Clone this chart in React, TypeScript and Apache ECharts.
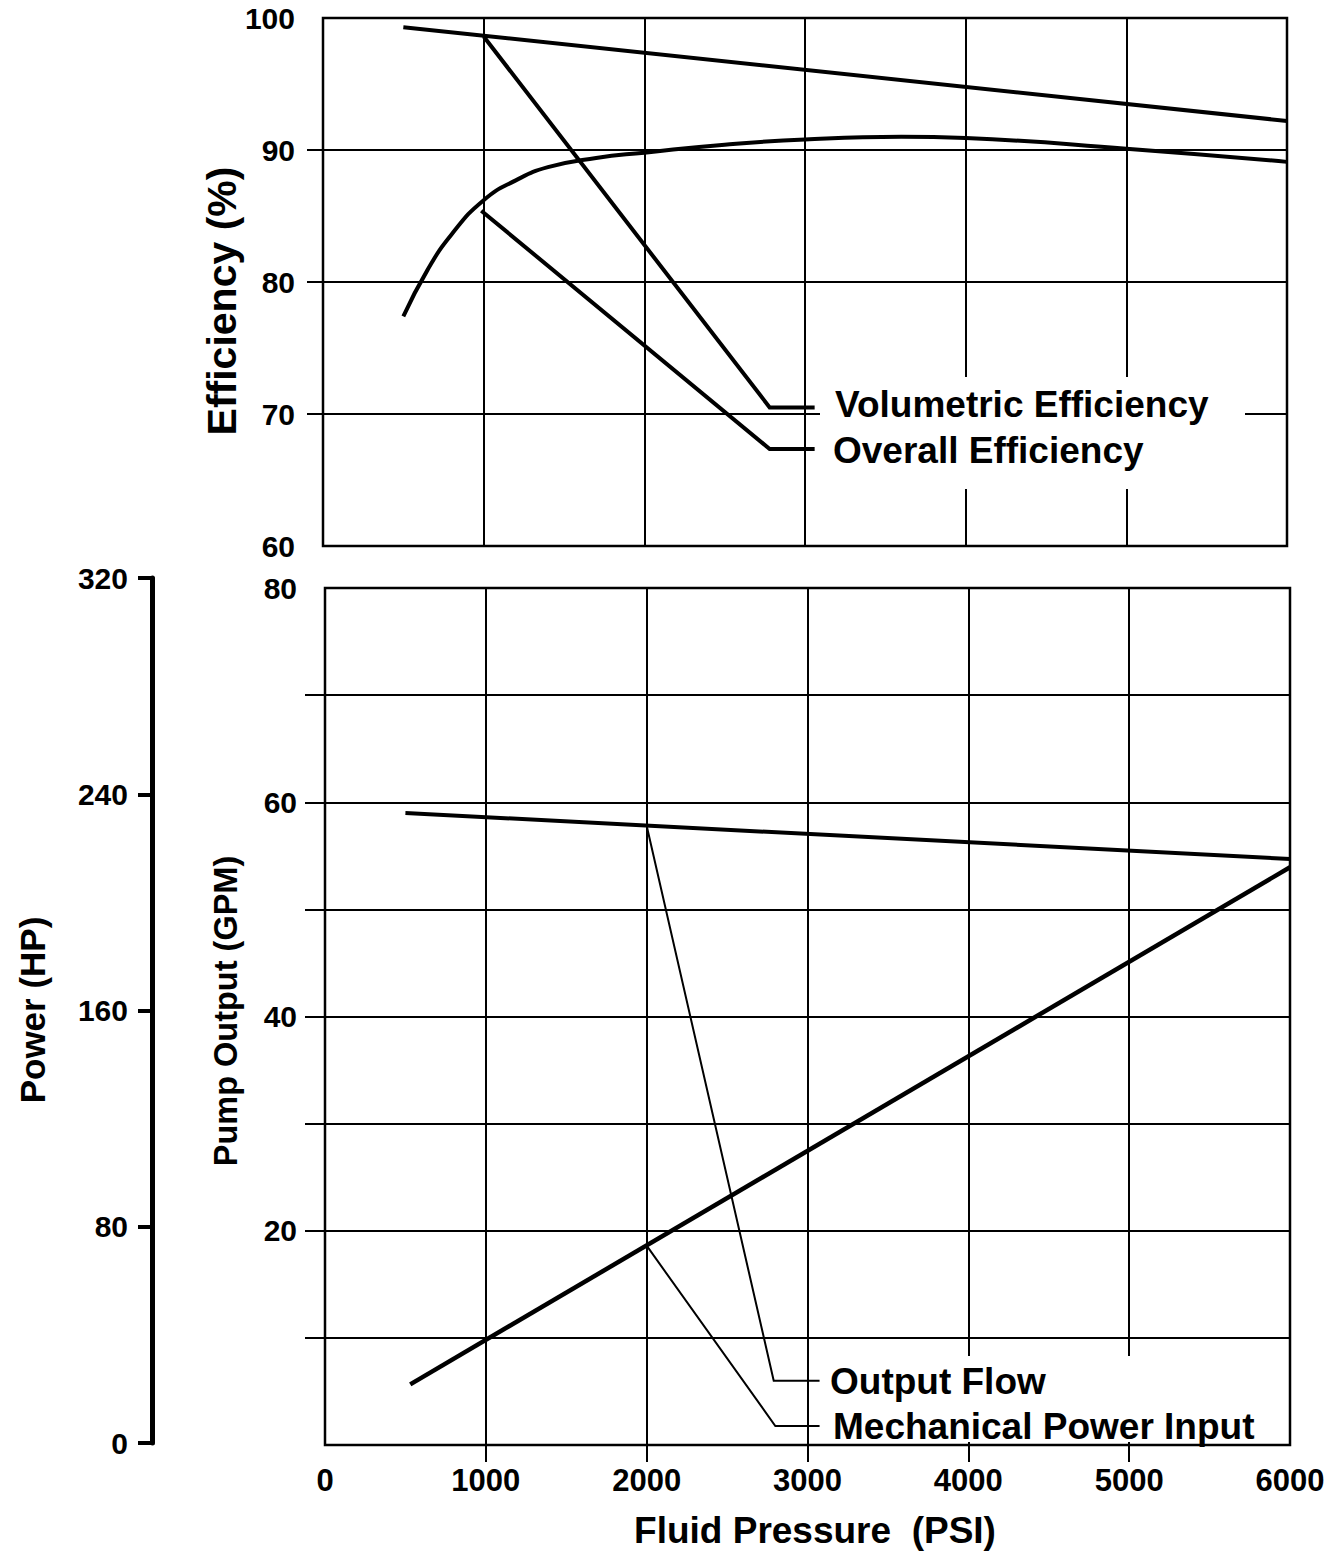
import React, { useEffect, useRef } from "react";
import * as echarts from "echarts";

// ---- data ----
const pressureLabels = [0, 1000, 2000, 3000, 4000, 5000, 6000];
const efficiencyTicks = [60, 70, 80, 90, 100];
const gpmTicks = [0, 20, 40, 60, 80];
const powerTicks = [0, 80, 160, 240, 320];

// Top panel: efficiency (%) vs pressure (PSI)
const volumetricEfficiency: [number, number][] = [
  [500, 99.3],
  [6000, 92.2],
];
const overallEfficiency: [number, number][] = [
  [500, 77.4],
  [650, 80.9],
  [800, 83.6],
  [1000, 86.2],
  [1200, 87.7],
  [1400, 88.7],
  [1700, 89.4],
  [2000, 89.8],
  [2500, 90.4],
  [3000, 90.8],
  [3600, 91.0],
  [4000, 90.9],
  [5000, 90.1],
  [6000, 89.1],
];
const volumetricLeader: [number, number][] = [
  [1000, 98.6],
  [2780, 70.5],
  [3060, 70.5],
];
const overallLeader: [number, number][] = [
  [985, 85.4],
  [2780, 67.35],
  [3060, 67.35],
];

// Bottom panel: pump output (GPM) and power (HP) vs pressure
const outputFlow: [number, number][] = [
  [500, 59.0],
  [6000, 54.7],
];
const outputFlowLeader: [number, number][] = [
  [2000, 57.8],
  [2790, 6.0],
  [3075, 6.0],
];
const powerInput: [number, number][] = [
  [530, 21.7],
  [6000, 213],
];
const powerLeader: [number, number][] = [
  [2000, 73],
  [2800, 6.3],
  [3075, 6.3],
];

const labelTexts = {
  volumetric: "Volumetric Efficiency",
  overall: "Overall Efficiency",
  flow: "Output Flow",
  power: "Mechanical Power Input",
  xTitle: "Fluid Pressure  (PSI)",
  effTitle: "Efficiency (%)",
  gpmTitle: "Pump Output (GPM)",
  hpTitle: "Power (HP)",
};

const FONT = "'Liberation Sans', Arial, Helvetica, sans-serif";

export default function App() {
  const ref = useRef<HTMLDivElement>(null);

  useEffect(() => {
    if (!ref.current) return;
    const chart = echarts.init(ref.current, null, { renderer: "svg" });

    const tickLabel = {
      color: "#000",
      fontSize: 30,
      fontWeight: "bold" as const,
      fontFamily: FONT,
      formatter: (v: number) => String(v),
    };
    const gridLine = { show: true, lineStyle: { color: "#000", width: 2 } };
    const lineSeries = (
      data: [number, number][],
      xi: number,
      yi: number,
      width: number
    ) => ({
      type: "line",
      xAxisIndex: xi,
      yAxisIndex: yi,
      data,
      symbol: "none",
      silent: true,
      lineStyle: { color: "#000", width, cap: "butt", join: "miter" },
      z: 5,
    });

    const text = (
      t: string,
      x: number,
      y: number,
      size: number,
      align: "left" | "center",
      rotation = 0
    ) => ({
      type: "text",
      x,
      y,
      rotation,
      z: 20,
      style: {
        text: t,
        fill: "#000",
        fontSize: size,
        fontWeight: "bold",
        fontFamily: FONT,
        textAlign: align,
        textVerticalAlign: "middle",
      },
    });

    const option = {
      animation: false,
      backgroundColor: "#fff",
      grid: [
        {
          left: 323,
          top: 18,
          width: 964,
          height: 528,
          show: true,
          borderColor: "#000",
          borderWidth: 2.5,
          containLabel: false,
          outerBoundsMode: "none",
        },
        {
          left: 325,
          top: 588,
          width: 965,
          height: 857,
          show: true,
          borderColor: "#000",
          borderWidth: 2.5,
          containLabel: false,
          outerBoundsMode: "none",
        },
        {
          left: 325,
          top: 578,
          width: 965,
          height: 865,
          show: false,
          containLabel: false,
          outerBoundsMode: "none",
        },
      ],
      xAxis: [
        {
          gridIndex: 0,
          type: "value",
          min: pressureLabels[0],
          max: pressureLabels[pressureLabels.length - 1],
          interval: 1000,
          axisLine: { show: false },
          axisTick: { show: false },
          axisLabel: { show: false },
          splitLine: gridLine,
        },
        {
          gridIndex: 1,
          type: "value",
          min: pressureLabels[0],
          max: pressureLabels[pressureLabels.length - 1],
          interval: 1000,
          axisLine: { show: false },
          axisTick: {
            show: true,
            inside: false,
            length: 17,
            customValues: pressureLabels.slice(1, -1),
            lineStyle: { color: "#000", width: 2 },
          },
          axisLabel: { ...tickLabel, fontSize: 31, margin: 20 },
          splitLine: gridLine,
        },
        {
          gridIndex: 2,
          type: "value",
          min: 0,
          max: 6000,
          show: false,
        },
      ],
      yAxis: [
        {
          gridIndex: 0,
          type: "value",
          min: efficiencyTicks[0],
          max: efficiencyTicks[efficiencyTicks.length - 1],
          interval: 10,
          axisLine: { show: false },
          axisTick: {
            show: true,
            length: 16,
            customValues: efficiencyTicks.slice(1, -1),
            lineStyle: { color: "#000", width: 2 },
          },
          axisLabel: { ...tickLabel, margin: 28 },
          splitLine: gridLine,
        },
        {
          gridIndex: 1,
          type: "value",
          min: gpmTicks[0],
          max: gpmTicks[gpmTicks.length - 1],
          interval: 10,
          axisLine: { show: false },
          axisTick: {
            show: true,
            length: 20,
            customValues: [10, 20, 30, 40, 50, 60, 70],
            lineStyle: { color: "#000", width: 2 },
          },
          axisLabel: {
            ...tickLabel,
            margin: 28,
            formatter: (v: number) =>
              gpmTicks.indexOf(v) > 0 ? String(v) : "",
          },
          splitLine: gridLine,
        },
        {
          gridIndex: 2,
          type: "value",
          min: powerTicks[0],
          max: powerTicks[powerTicks.length - 1],
          interval: 80,
          position: "left",
          offset: 173,
          axisLine: {
            show: true,
            onZero: false,
            lineStyle: { color: "#000", width: 5 },
          },
          axisTick: {
            show: true,
            length: 14,
            lineStyle: { color: "#000", width: 4 },
          },
          axisLabel: { ...tickLabel, margin: 24 },
          splitLine: { show: false },
        },
      ],
      series: [
        lineSeries(volumetricEfficiency, 0, 0, 4),
        {
          ...lineSeries(overallEfficiency, 0, 0, 4),
          smooth: 0.5,
        },
        lineSeries(volumetricLeader, 0, 0, 4),
        lineSeries(overallLeader, 0, 0, 4),
        lineSeries(outputFlow, 1, 1, 4),
        lineSeries(outputFlowLeader, 1, 1, 2),
        lineSeries(powerInput, 2, 2, 4.5),
        lineSeries(powerLeader, 2, 2, 2),
      ],
      graphic: [
        {
          type: "rect",
          z: 10,
          shape: { x: 820, y: 377, width: 425, height: 112 },
          style: { fill: "#fff" },
        },
        {
          type: "rect",
          z: 10,
          shape: { x: 822, y: 1356, width: 450, height: 86 },
          style: { fill: "#fff" },
        },
        text(labelTexts.volumetric, 835, 404, 37, "left"),
        text(labelTexts.overall, 833, 450, 37, "left"),
        text(labelTexts.flow, 830, 1381, 37, "left"),
        text(labelTexts.power, 833, 1426, 37, "left"),
        text(labelTexts.xTitle, 815, 1530, 37, "center"),
        text(labelTexts.effTitle, 222, 301, 41, "center", Math.PI / 2),
        text(labelTexts.gpmTitle, 226, 1011, 32.5, "center", Math.PI / 2),
        text(labelTexts.hpTitle, 32, 1010, 35, "center", Math.PI / 2),
      ],
    };

    chart.setOption(option as any);
    return () => chart.dispose();
  }, []);

  return (
    <div
      ref={ref}
      style={{
        position: "absolute",
        left: 0,
        top: 0,
        width: 1324,
        height: 1565,
        background: "#fff",
      }}
    />
  );
}
